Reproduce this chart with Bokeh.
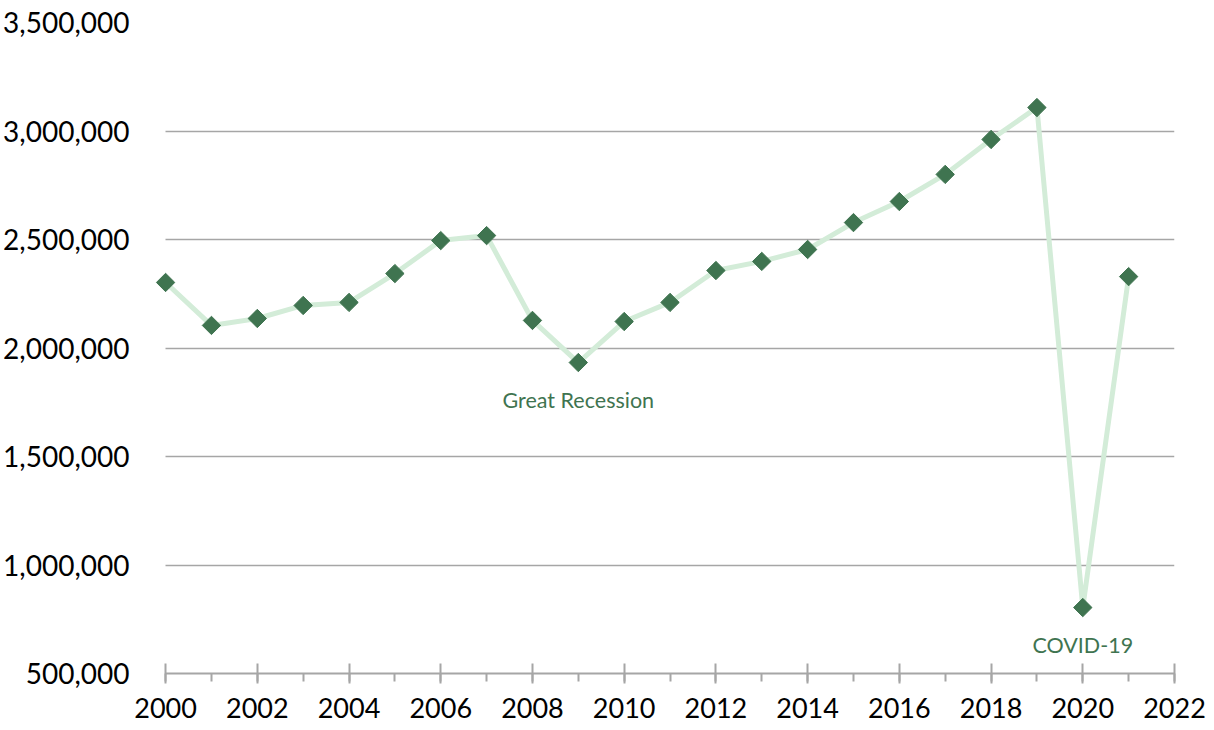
from bokeh.plotting import figure
from bokeh.models import ColumnDataSource, SingleIntervalTicker, NumeralTickFormatter, Range1d
from bokeh.core.properties import value
from bokeh.embed import file_html
from bokeh.resources import INLINE
import math

years = list(range(2000, 2022))
visitors = [2302000, 2104000, 2136000, 2196000, 2210000, 2343000, 2495000, 2518000,
            2127000, 1933000, 2122000, 2210000, 2357000, 2399000, 2454000, 2578000,
            2675000, 2800000, 2961000, 3108000, 804000, 2329000]
note_years = [2009, 2020]
note_values = [1933000, 804000]
note_texts = ["Great Recession", "COVID-19"]

FONT = "Lato"
DARK = "#3F7450"
LIGHT = "#D3ECD8"
GRID = "#A6A6A6"

p = figure(width=1210, height=728, output_backend="svg", toolbar_location=None,
           x_range=Range1d(1999.78, 2022), y_range=Range1d(500000, 3500000),
           min_border_left=154, min_border_right=36, min_border_top=22, min_border_bottom=55)
p.outline_line_color = None
p.background_fill_color = "white"
p.border_fill_color = "white"

src = ColumnDataSource(dict(x=years, y=visitors))
p.line("x", "y", source=src, line_color=LIGHT, line_width=5)
p.scatter("x", "y", source=src, marker="square", size=13, angle=math.pi / 4,
          fill_color=DARK, line_color=DARK)

nsrc = ColumnDataSource(dict(x=note_years, y=note_values, t=note_texts))
p.text("x", "y", text="t", source=nsrc, y_offset=37, text_align="center", text_baseline="middle",
       text_font=value(FONT), text_font_size="21.5px", text_color=DARK)

# x axis
xa = p.xaxis[0]
xa.bounds = (2000, 2022)
xa.ticker = SingleIntervalTicker(interval=2, num_minor_ticks=2)
xa.axis_line_color = GRID
xa.axis_line_width = 2
xa.major_tick_line_color = GRID
xa.major_tick_line_width = 2
xa.major_tick_in = 10
xa.major_tick_out = 10
xa.minor_tick_line_color = GRID
xa.minor_tick_line_width = 2
xa.minor_tick_in = 0
xa.minor_tick_out = 8
xa.major_label_text_font = FONT
xa.major_label_text_font_size = "27px"
xa.major_label_text_color = "black"
xa.major_label_standoff = 14

# y axis
ya = p.yaxis[0]
ya.ticker = SingleIntervalTicker(interval=500000, num_minor_ticks=0)
ya.formatter = NumeralTickFormatter(format="0,0")
ya.axis_line_color = None
ya.major_tick_line_color = None
ya.minor_tick_line_color = None
ya.major_label_text_font = FONT
ya.major_label_text_font_size = "28px"
ya.major_label_text_color = "black"
ya.major_label_standoff = 20

p.xgrid.grid_line_color = None
p.ygrid.grid_line_color = GRID
p.ygrid.grid_line_width = 1.5
p.ygrid.ticker = SingleIntervalTicker(interval=500000, num_minor_ticks=0)
p.ygrid.cross_bounds = (2000, 2022)

open("out.html", "w").write(file_html(p, INLINE))
